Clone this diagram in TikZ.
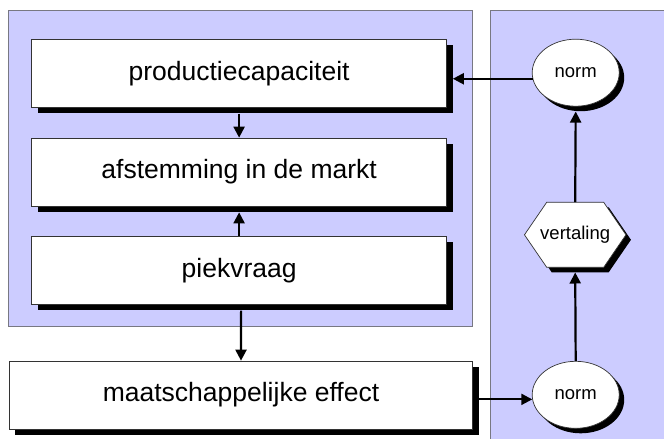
\documentclass[tikz,border=0pt]{standalone}
\usepackage{fontspec}
\setmainfont{Liberation Sans}
\usetikzlibrary{arrows.meta,shadows,shapes.geometric,calc}
\definecolor{panelc}{RGB}{204,204,255}
\definecolor{panelb}{RGB}{120,120,130}
\tikzset{
  panel/.style={fill=panelc,draw=panelb,line width=0.9pt},
  boxn/.style={draw=black!80,line width=0.7pt,fill=white,minimum height=68pt,inner sep=0pt,
    font=\fontsize{26.5}{30}\selectfont,
    drop shadow={fill=black,opacity=1,shadow xshift=6pt,shadow yshift=-6pt}},
  normn/.style={ellipse,draw=black!80,line width=0.7pt,fill=white,minimum width=87pt,minimum height=67pt,inner sep=0pt,
    font=\fontsize{18.5}{22}\selectfont,
    drop shadow={fill=black,opacity=1,shadow xshift=5pt,shadow yshift=-5pt}},
  hexn/.style={draw=none,minimum width=101.5pt,minimum height=65pt,inner sep=0pt,font=\fontsize{18.5}{22}\selectfont},
  hexshape/.style={draw=black!80,line width=0.7pt,fill=white,
    drop shadow={fill=black,opacity=1,shadow xshift=5pt,shadow yshift=-5pt}},
  arr/.style={line width=2.2pt,-{Triangle[length=11pt,width=11pt]}}
}
\begin{document}
\begin{tikzpicture}[x=1pt,y=-1pt]
\useasboundingbox (0,0) rectangle (664,439);
\clip (0,0) rectangle (664,439);
\fill[white] (0,0) rectangle (664,439);
% panels
\path[panel] (8.5,10.7) rectangle (472.7,326.7);
\path[panel] (490.7,10.7) rectangle (690,470);
% boxes
\node[boxn,minimum width=414.8pt] (box1) at (239.1,73.3) {productiecapaciteit};
\node[boxn,minimum width=414.8pt] (box2) at (239.1,172) {afstemming in de markt};
\node[boxn,minimum width=414.8pt] (box3) at (239.1,270.3) {piekvraag};
\node[boxn,minimum width=463.4pt] (box4) at (241,395) {maatschappelijke effect};
% right column
\node[normn] (norm1) at (575.7,72.7) {norm};
\node[normn] (norm2) at (575.7,394.8) {norm};
\coordinate (vc) at (575.2,234.8);
\path[hexshape] ($(vc)+(-50.75,0)$) -- ($(vc)+(-28.5,-32.5)$) -- ($(vc)+(28.5,-32.5)$) -- ($(vc)+(50.75,0)$) -- ($(vc)+(28.5,32.5)$) -- ($(vc)+(-28.5,32.5)$) -- cycle;
\node[hexn] (vert) at (vc) {vertaling};
% helper coordinates at shadow edges
\coordinate (b1r) at ([xshift=6pt]box1.east);
\coordinate (b4r) at ([xshift=6pt]box4.east);
% connectors
\draw[arr] (norm1.188) -- (b1r |- norm1.188);
\draw[arr] ([yshift=-6pt]box1.south) -- (box2.north);
\draw[arr] (box3.north) -- ([yshift=-6pt]box2.south);
\draw[arr] ([yshift=-6pt,xshift=2pt]box3.south) -- ([xshift=0pt]box4.north);
\draw[arr] (b4r |- norm2.186) -- (norm2.186);
\draw[arr] (norm2.north) -- ([yshift=-5pt]vert.south);
\draw[arr] (vert.north) -- ([yshift=-5pt]norm1.south);
\end{tikzpicture}
\end{document}
